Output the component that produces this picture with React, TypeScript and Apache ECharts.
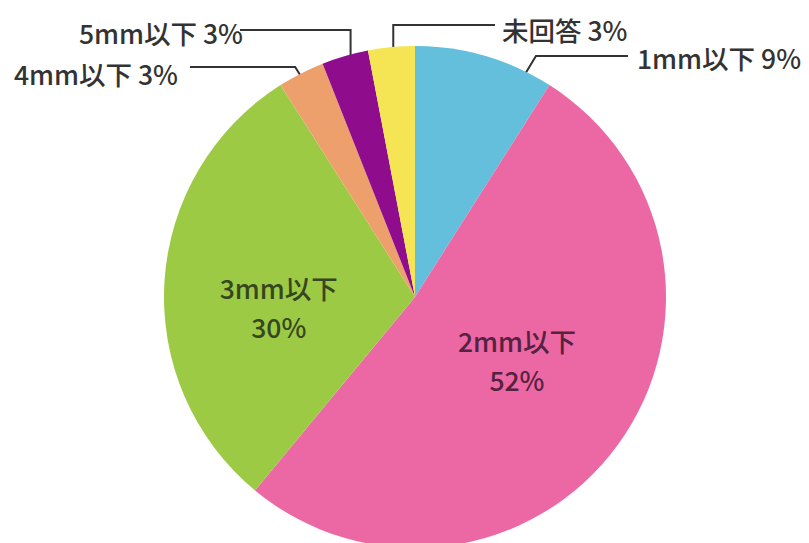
import React, { useEffect, useRef } from "react";
import * as echarts from "echarts";

const categories = ["1mm以下", "2mm以下", "3mm以下", "4mm以下", "5mm以下", "未回答"];
const values = [9, 52, 30, 3, 3, 3];
const colors = ["#63bfdc", "#ec68a4", "#9dca45", "#eda06c", "#8f0c8c", "#f5e554"];

const CX = 415;
const CY = 297;
const R = 251;
const FONT = "'Noto Sans CJK JP', 'Noto Sans', sans-serif";

// label annotation layout (outside labels): fraction along slice for start, elbow offset/level, end x, text anchor
const outside: Record<number, { t: number; ex: number; ey: number; endX: number; tx: number; ty: number; align: string }> = {
  0: { t: 0.8, ex: 20, ey: 56, endX: 628, tx: 637, ty: 57, align: "left" },
  3: { t: 0.5, ex: -15, ey: 67, endX: 190, tx: 178, ty: 73, align: "right" },
  4: { t: 0.5, ex: 0, ey: 30, endX: 240, tx: 243, ty: 32, align: "right" },
  5: { t: 0.5, ex: 0, ey: 25, endX: 495, tx: 502, ty: 29, align: "left" },
};
const insideShift: Record<number, { dx: number; dy: number }> = {
  1: { dx: -2, dy: -13 },
  2: { dx: -8, dy: 18 },
};

export default function App() {
  const ref = useRef<HTMLDivElement>(null);
  useEffect(() => {
    document.body.style.margin = "0";
    if (!ref.current) return;
    const chart = echarts.init(ref.current, null, { renderer: "svg" });
    const total = values.reduce((a, b) => a + b, 0);
    const starts: number[] = [];
    let acc = 0;
    values.forEach((v) => {
      starts.push(acc);
      acc += v;
    });
    const data = categories.map((name, i) => {
      const inside = !!insideShift[i];
      return {
        name,
        value: values[i],
        itemStyle: { color: colors[i] },
        label: inside
          ? {
              position: "inside",
              formatter: "{b}\n{d}%",
              color: i === 1 ? "#55223f" : "#364620",
              lineHeight: 39,
            }
          : { position: "outside", formatter: "{b} {d}%", color: "#333333" },
        labelLine: { show: !inside },
      };
    });
    chart.setOption({
      animation: false,
      series: [
        {
          type: "pie",
          center: [CX, CY],
          radius: R,
          startAngle: 90,
          clockwise: true,
          avoidLabelOverlap: false,
          silent: true,
          data,
          label: {
            show: true,
            fontSize: 26.5,
            fontFamily: FONT,
            fontWeight: 500,
          },
          labelLine: {
            show: true,
            length: 20,
            length2: 40,
            lineStyle: { color: "#333333", width: 2 },
          },
          labelLayout: (p: any) => {
            const i = p.dataIndex;
            const o = outside[i];
            if (o) {
              const a = ((starts[i] + values[i] * o.t) / total) * Math.PI * 2;
              const r = R * 0.92;
              const sx = CX + r * Math.sin(a);
              const sy = CY - r * Math.cos(a);
              return {
                x: o.tx,
                y: o.ty,
                align: o.align,
                verticalAlign: "middle",
                labelLinePoints: [
                  [sx, sy],
                  [sx + o.ex, o.ey],
                  [o.endX, o.ey],
                ],
              };
            }
            const s = insideShift[i];
            return s ? { dx: s.dx, dy: s.dy } : {};
          },
        },
      ],
    });
    return () => chart.dispose();
  }, []);
  return <div ref={ref} style={{ width: 809, height: 543 }} />;
}
